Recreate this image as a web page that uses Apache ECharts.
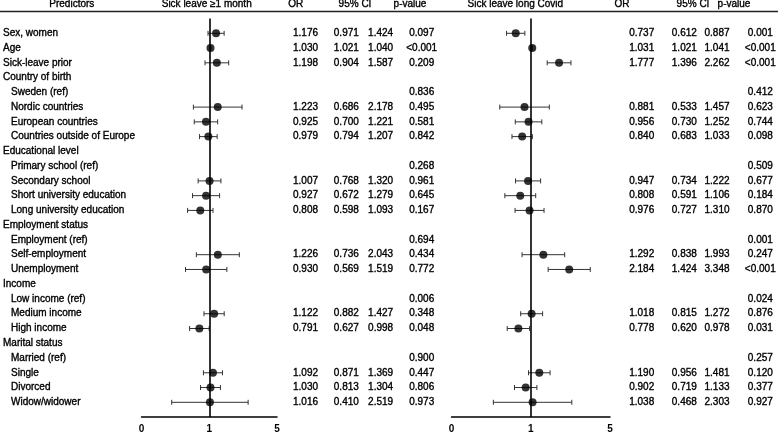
<!DOCTYPE html>
<html>
<head>
<meta charset="utf-8">
<script src="https://cdn.jsdelivr.net/npm/echarts@6/dist/echarts.min.js"></script>
<style>html,body{margin:0;padding:0;background:#fff}#c{width:778px;height:433px}</style>
</head>
<body>
<div id="c"></div>
<script>
// ---------- data ----------
const categories = [
  'Sex, women','Age','Sick-leave prior','Country of birth','Sweden (ref)','Nordic countries',
  'European countries','Countries outside of Europe','Educational level','Primary school (ref)',
  'Secondary school','Short university education','Long university education','Employment status',
  'Employment (ref)','Self-employment','Unemployment','Income','Low income (ref)','Medium income',
  'High income','Marital status','Married (ref)','Single','Divorced','Widow/widower'
];
const indented = [0,0,0,0,1,1,1,1,0,1,1,1,1,0,1,1,1,0,1,1,1,0,1,1,1,1];

// Sick leave >=1 month
const orA  = [1.176,1.030,1.198,null,null,1.223,0.925,0.979,null,null,1.007,0.927,0.808,null,null,1.226,0.930,null,null,1.122,0.791,null,null,1.092,1.030,1.016];
const loA  = [0.971,1.021,0.904,null,null,0.686,0.700,0.794,null,null,0.768,0.672,0.598,null,null,0.736,0.569,null,null,0.882,0.627,null,null,0.871,0.813,0.410];
const hiA  = [1.424,1.040,1.587,null,null,2.178,1.221,1.207,null,null,1.320,1.279,1.093,null,null,2.043,1.519,null,null,1.427,0.998,null,null,1.369,1.304,2.519];
const pA   = ['0.097','<0.001','0.209','','0.836','0.495','0.581','0.842','','0.268','0.961','0.645','0.167','','0.694','0.434','0.772','','0.006','0.348','0.048','','0.900','0.447','0.806','0.973'];

// Sick leave long Covid
const orB  = [0.737,1.031,1.777,null,null,0.881,0.956,0.840,null,null,0.947,0.808,0.976,null,null,1.292,2.184,null,null,1.018,0.778,null,null,1.190,0.902,1.038];
const loB  = [0.612,1.021,1.396,null,null,0.533,0.730,0.683,null,null,0.734,0.591,0.727,null,null,0.838,1.424,null,null,0.815,0.620,null,null,0.956,0.719,0.468];
const hiB  = [0.887,1.041,2.262,null,null,1.457,1.252,1.033,null,null,1.222,1.106,1.310,null,null,1.993,3.348,null,null,1.272,0.978,null,null,1.481,1.133,2.303];
const pB   = ['0.001','<0.001','<0.001','','0.412','0.623','0.744','0.098','','0.509','0.677','0.184','0.870','','0.001','0.247','<0.001','','0.024','0.876','0.031','','0.257','0.120','0.377','0.927'];

const xTickValues = [0.2, 1, 5];
const xTickLabels = ['0', '1', '5'];

// ---------- layout ----------
const W = 778, H = 433;
const rowH = 14.76, row0 = 33.3;
const FONT = '10px "Liberation Sans", Arial, sans-serif';
const TXT = {font: FONT, fill: '#000', stroke: '#000', lineWidth: 0.35};
const colA = {or: 305.5, lo: 346.3, hi: 380.6, p: 421.7};
const colB = {or: 641.7, lo: 684.3, hi: 717.0, p: 760.3};

const chart = echarts.init(document.getElementById('c'), null, {renderer: 'canvas'});

function fmt(v){ return v == null ? '' : v.toFixed(3); }

function textSeries(name, xPos, texts, align, xPosFn) {
  const data = [];
  texts.forEach((t, i) => { if (t !== '') data.push([xPosFn ? xPosFn(i) : xPos, i, t]); });
  return {
    type: 'custom', name, xAxisIndex: 2, yAxisIndex: 2, silent: true, animation: false,
    data: data.map(d => [d[0], d[1]]),
    renderItem: (params, api) => {
      const p = api.coord([api.value(0), api.value(1)]);
      return {type: 'text', x: p[0], y: p[1], style: Object.assign({
        text: data[params.dataIndex][2], align: align, verticalAlign: 'middle'}, TXT)};
    }
  };
}

function barSeries(idx, lo, hi) {
  const data = [];
  lo.forEach((v, i) => { if (v != null) data.push([v, hi[i], i]); });
  return {
    type: 'custom', xAxisIndex: idx, yAxisIndex: idx, silent: true, animation: false,
    encode: {x: [0, 1], y: 2},
    data,
    renderItem: (params, api) => {
      const a = api.coord([api.value(0), api.value(2)]);
      const b = api.coord([api.value(1), api.value(2)]);
      const c = 2.5;
      const st = {stroke: '#333', lineWidth: 1};
      return {type: 'group', children: [
        {type: 'line', shape: {x1: a[0], y1: a[1], x2: b[0], y2: b[1]}, style: st},
        {type: 'line', shape: {x1: a[0], y1: a[1]-c, x2: a[0], y2: a[1]+c}, style: st},
        {type: 'line', shape: {x1: b[0], y1: b[1]-c, x2: b[0], y2: b[1]+c}, style: st}
      ]};
    }
  };
}

function dotSeries(idx, or) {
  const data = [];
  or.forEach((v, i) => { if (v != null) data.push([v, i]); });
  return {
    type: 'scatter', xAxisIndex: idx, yAxisIndex: idx, silent: true, animation: false,
    symbol: 'circle', symbolSize: 8, itemStyle: {color: '#000'}, z: 5,
    data,
    markLine: {
      silent: true, symbol: 'none', animation: false,
      label: {show: false},
      lineStyle: {color: '#000', width: 1.6, type: 'solid'},
      data: [{xAxis: 1}]
    }
  };
}

function forestX(idx) {
  return {
    type: 'log', logBase: 5, gridIndex: idx, min: xTickValues[0], max: xTickValues[2], interval: 1,
    axisLine: {show: true, onZero: false, lineStyle: {color: '#000', width: 1.5}},
    axisTick: {show: false}, splitLine: {show: false}, minorTick: {show: false},
    axisLabel: {
      show: true, margin: 7, color: '#000', fontSize: 10, fontWeight: 'bold',
      fontFamily: '"Liberation Sans", Arial, sans-serif',
      formatter: v => { const k = xTickValues.findIndex(t => Math.abs(t - v) < 1e-6); return k >= 0 ? xTickLabels[k] : ''; }
    }
  };
}
function forestY(idx) {
  return {type: 'value', gridIndex: idx, inverse: true, min: -1, max: 26, show: false};
}

const gridTop = row0 - rowH, gridH = 27 * rowH;

const option = {
  backgroundColor: '#fff',
  animation: false,
  grid: [
    {left: 141.5, width: 135.5, top: gridTop, height: gridH, outerBoundsMode: 'none', containLabel: false},
    {left: 451.5, width: 158.5, top: gridTop, height: gridH, outerBoundsMode: 'none', containLabel: false},
    {left: 0, right: 0, top: 0, bottom: 0, outerBoundsMode: 'none', containLabel: false}
  ],
  xAxis: [forestX(0), forestX(1),
    {type: 'value', gridIndex: 2, min: 0, max: W, show: false}],
  yAxis: [forestY(0), forestY(1),
    {type: 'value', gridIndex: 2, inverse: true, min: -row0 / rowH, max: (H - row0) / rowH, show: false}],
  graphic: [
    {type: 'line', silent: true, shape: {x1: 0, y1: 11.5, x2: W, y2: 11.5}, style: {stroke: '#222', lineWidth: 1.3}},
    ...[
      ['Predictors', 71.8], ['Sick leave \u22651 month', 206.7], ['OR', 295.7], ['95% CI', 355], ['p-value', 410],
      ['Sick leave long Covid', 515.3], ['OR', 622], ['95% CI', 693], ['p-value', 734]
    ].map(([t, x]) => ({type: 'text', silent: true, x: x, y: 4.5,
      style: Object.assign({text: t, align: 'center', verticalAlign: 'middle'}, TXT)}))
  ],
  series: [
    barSeries(0, loA, hiA), dotSeries(0, orA),
    barSeries(1, loB, hiB), dotSeries(1, orB),
    textSeries('labels', 0, categories, 'left', i => indented[i] ? 11 : 3),
    textSeries('orA', colA.or, orA.map(fmt), 'center'),
    textSeries('loA', colA.lo, loA.map(fmt), 'center'),
    textSeries('hiA', colA.hi, hiA.map(fmt), 'center'),
    textSeries('pA',  colA.p,  pA, 'center'),
    textSeries('orB', colB.or, orB.map(fmt), 'center'),
    textSeries('loB', colB.lo, loB.map(fmt), 'center'),
    textSeries('hiB', colB.hi, hiB.map(fmt), 'center'),
    textSeries('pB',  colB.p,  pB, 'center')
  ]
};
chart.setOption(option);
</script>
</body>
</html>
